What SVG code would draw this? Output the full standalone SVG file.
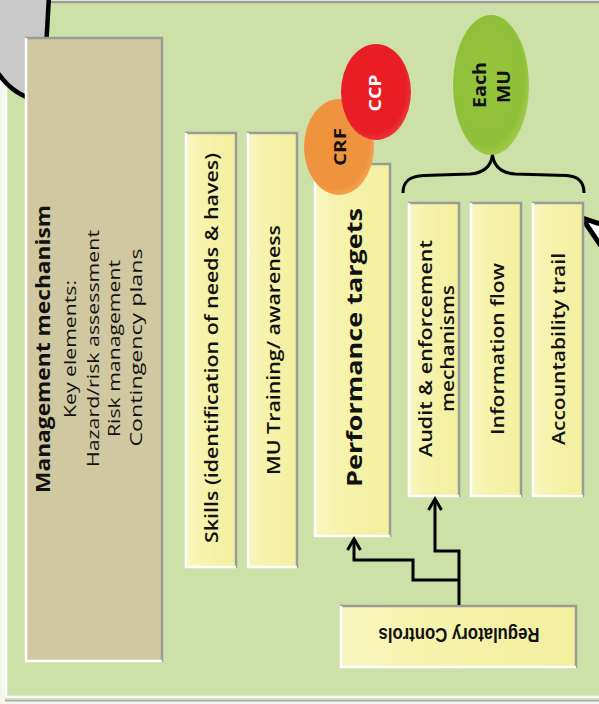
<svg xmlns="http://www.w3.org/2000/svg" width="599" height="704" viewBox="0 0 599 704">
  <defs>
    <linearGradient id="yel" x1="0" y1="0" x2="1" y2="0">
      <stop offset="0" stop-color="#f9f7c2"/>
      <stop offset="0.35" stop-color="#f6f3ac"/>
      <stop offset="1" stop-color="#f2ef9e"/>
    </linearGradient>
    <radialGradient id="grn" cx="0.45" cy="0.45" r="0.6">
      <stop offset="0" stop-color="#97c43c"/>
      <stop offset="0.8" stop-color="#8fc03a"/>
      <stop offset="1" stop-color="#a6d04e"/>
    </radialGradient>
    <radialGradient id="red" cx="0.45" cy="0.45" r="0.6">
      <stop offset="0" stop-color="#ec1c24"/>
      <stop offset="0.8" stop-color="#e81d25"/>
      <stop offset="1" stop-color="#f04048"/>
    </radialGradient>
    <radialGradient id="org" cx="0.45" cy="0.45" r="0.6">
      <stop offset="0" stop-color="#f0923a"/>
      <stop offset="0.8" stop-color="#ef9340"/>
      <stop offset="1" stop-color="#f5a85a"/>
    </radialGradient>
    <marker id="arr" viewBox="-14 -10 18 20" markerWidth="18" markerHeight="20" refX="0" refY="0" orient="auto" markerUnits="userSpaceOnUse">
      <path d="M -11,-6.5 L 0,0 L -11,6.5" fill="none" stroke="#000" stroke-width="3"/>
    </marker>
    <style>
      .panel { fill: #cde0a7; }
      .mgmt { fill: #cfc8a0; }
      .box { fill: url(#yel); }
      .hl { fill: none; stroke: #ffffff; stroke-width: 2.5; }
      .sh { fill: none; stroke: #9c9c96; stroke-width: 2.5; }
      .t { font-family: "Open Sans", "DejaVu Sans", sans-serif; fill: #111; text-anchor: middle; }
      .reg { font-size: 17px; font-weight: 400; }
      .semi { font-size: 18px; font-weight: 600; }
      .bold { font-weight: 700; }
      .wire { fill: none; stroke: #000; stroke-width: 3; stroke-linejoin: miter; }
    </style>
  </defs>

  <!-- background panel -->
  <g id="panel">
    <rect x="0" y="0" width="599" height="704" fill="#f4f6ee"/>
    <rect class="panel" x="5" y="2" width="594" height="697"/>
    <path class="sh" d="M 5,2 L 599,2"/>
    <path class="hl" d="M 6,2 L 6,697 L 599,697"/>
    <path d="M 5,700.5 L 599,700.5" stroke="#a9aaa5" stroke-width="2" fill="none"/>
  </g>

  <!-- partial callout shapes at the edges -->
  <g id="callout-left">
    <path d="M 49,-4 L 43,101 Q 14,98 -4,70 L -4,-4 Z" fill="#c9c9c9" stroke="#000" stroke-width="4.5"/>
  </g>
  <g id="callout-right">
    <path d="M 603,225 L 582,218 L 603,249" fill="#ffffff" stroke="#000" stroke-width="5" stroke-linejoin="miter"/>
  </g>

  <!-- management mechanism -->
  <g id="management">
    <rect class="mgmt" x="25" y="37" width="138" height="625"/>
    <path class="sh" d="M 25,38 L 162,38 L 162,662"/>
    <path class="hl" d="M 26,38 L 26,661 L 162,661"/>
    <g class="t">
      <text class="bold" font-size="19" textLength="288" lengthAdjust="spacingAndGlyphs" transform="translate(50,349) rotate(-90)">Management mechanism</text>
      <text class="reg" textLength="138" lengthAdjust="spacingAndGlyphs" transform="translate(76,349) rotate(-90)">Key elements:</text>
      <text class="reg" textLength="237" lengthAdjust="spacingAndGlyphs" transform="translate(99,348.5) rotate(-90)">Hazard/risk assessment</text>
      <text class="reg" textLength="177" lengthAdjust="spacingAndGlyphs" transform="translate(120,348.5) rotate(-90)">Risk management</text>
      <text class="reg" textLength="198" lengthAdjust="spacingAndGlyphs" transform="translate(142,347.5) rotate(-90)">Contingency plans</text>
    </g>
  </g>

  <!-- skills -->
  <g id="skills">
    <rect class="box" x="185" y="132" width="52" height="436"/>
    <path class="sh" d="M 185,133 L 236,133 L 236,568"/>
    <path class="hl" d="M 186,133 L 186,567 L 236,567"/>
    <text class="t semi" textLength="390" lengthAdjust="spacingAndGlyphs" transform="translate(217.5,348) rotate(-90)">Skills (identification of needs &amp; haves)</text>
  </g>

  <!-- training -->
  <g id="training">
    <rect class="box" x="247" y="132" width="51" height="436"/>
    <path class="sh" d="M 247,133 L 297,133 L 297,568"/>
    <path class="hl" d="M 248,133 L 248,567 L 297,567"/>
    <text class="t semi" textLength="250" lengthAdjust="spacingAndGlyphs" transform="translate(279.5,350) rotate(-90)">MU Training/ awareness</text>
  </g>

  <!-- performance targets -->
  <g id="performance">
    <rect class="box" x="314" y="163" width="77" height="374"/>
    <path class="sh" d="M 314,164 L 390,164 L 390,537"/>
    <path class="hl" d="M 315,164 L 315,536 L 390,536"/>
    <text class="t bold" font-size="22" textLength="279" lengthAdjust="spacingAndGlyphs" transform="translate(361.5,347.5) rotate(-90)">Performance targets</text>
  </g>

  <!-- audit -->
  <g id="audit">
    <rect class="box" x="408" y="202" width="52" height="295"/>
    <path class="sh" d="M 408,203 L 459,203 L 459,497"/>
    <path class="hl" d="M 409,203 L 409,496 L 459,496"/>
    <g class="t semi">
      <text textLength="217" lengthAdjust="spacingAndGlyphs" transform="translate(432,348.5) rotate(-90)">Audit &amp; enforcement</text>
      <text textLength="127" lengthAdjust="spacingAndGlyphs" transform="translate(453.5,348.5) rotate(-90)">mechanisms</text>
    </g>
  </g>

  <!-- information flow -->
  <g id="information">
    <rect class="box" x="470" y="202" width="52" height="295"/>
    <path class="sh" d="M 470,203 L 521,203 L 521,497"/>
    <path class="hl" d="M 471,203 L 471,496 L 521,496"/>
    <text class="t semi" textLength="172" lengthAdjust="spacingAndGlyphs" transform="translate(503.5,349) rotate(-90)">Information flow</text>
  </g>

  <!-- accountability -->
  <g id="accountability">
    <rect class="box" x="532" y="202" width="52" height="295"/>
    <path class="sh" d="M 532,203 L 583,203 L 583,497"/>
    <path class="hl" d="M 533,203 L 533,496 L 583,496"/>
    <text class="t semi" textLength="192" lengthAdjust="spacingAndGlyphs" transform="translate(565,349) rotate(-90)">Accountability trail</text>
  </g>

  <!-- regulatory controls -->
  <g id="regulatory">
    <rect class="box" x="340" y="605" width="237" height="63"/>
    <path class="sh" d="M 340,606 L 576,606 L 576,668"/>
    <path class="hl" d="M 341,606 L 341,667 L 576,667"/>
    <text class="t bold" font-size="20" textLength="161" lengthAdjust="spacingAndGlyphs" transform="translate(459,628) rotate(180)" style="font-family:'Liberation Sans', Arial, sans-serif">Regulatory Controls</text>
  </g>

  <!-- CRF and CCP markers -->
  <g id="crf">
    <ellipse cx="339" cy="147" rx="35" ry="48" fill="url(#org)"/>
    <text class="t bold" font-size="16" textLength="38" lengthAdjust="spacingAndGlyphs" transform="translate(346,147) rotate(-90)">CRF</text>
  </g>
  <g id="ccp">
    <ellipse cx="376" cy="92" rx="35" ry="48" fill="url(#red)"/>
    <text class="t bold" font-size="16" textLength="37" lengthAdjust="spacingAndGlyphs" transform="translate(381,93) rotate(-90)" style="fill:#ffffff">CCP</text>
  </g>

  <!-- each MU -->
  <g id="each-mu">
    <ellipse cx="491" cy="85" rx="38" ry="70" fill="url(#grn)"/>
    <g class="t bold" font-size="17">
      <text textLength="46" lengthAdjust="spacingAndGlyphs" transform="translate(485.5,85) rotate(-90)">Each</text>
      <text textLength="33" lengthAdjust="spacingAndGlyphs" transform="translate(509.5,86.5) rotate(-90)">MU</text>
    </g>
  </g>

  <!-- connectors -->
  <g id="connectors">
    <path class="wire" d="M 403,193 C 403,181 410,176 424,175.5 L 470,174 C 484,173 491,166 492.5,155 C 494,166 501,173 515,174 L 566,175.5 C 578,176 584,182 584,193" stroke-width="2.8"/>
    <path class="wire" d="M 459,605 L 459,551 L 435,551 L 435,499" marker-end="url(#arr)"/>
    <path class="wire" d="M 459,580 L 413,580 L 413,560 L 354,560 L 354,539" marker-end="url(#arr)"/>
  </g>
</svg>
